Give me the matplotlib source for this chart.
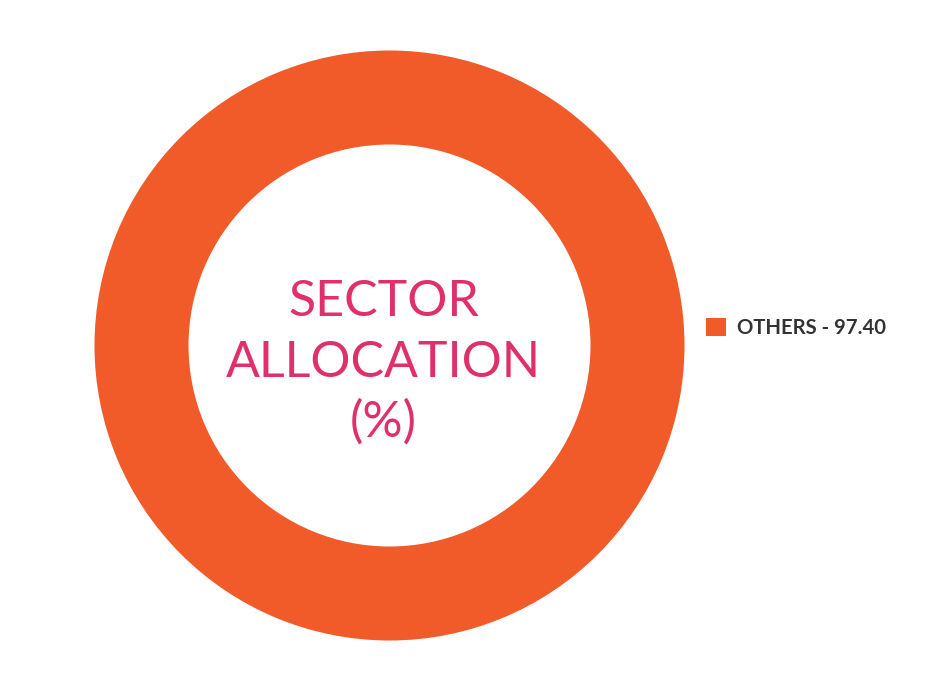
import matplotlib
matplotlib.use("Agg")
import matplotlib.pyplot as plt
from matplotlib.patches import Patch

categories = ["OTHERS"]
values = [97.40]
colors = ["#f15a29"]
center_lines = ["SECTOR", "ALLOCATION", "(%)"]

W, H = 943, 695
fig = plt.figure(figsize=(W / 100, H / 100), dpi=100)
ax = fig.add_axes([0, 0, 1, 1])

cx, cy, r_out, r_in = 389.5, 345.5, 295, 201
ax.pie(values, colors=colors, center=(cx, cy), radius=r_out, startangle=90,
       counterclock=False, wedgeprops=dict(width=r_out - r_in, edgecolor="none"))
ax.set_xlim(0, W)
ax.set_ylim(H, 0)
ax.set_aspect("equal")
ax.axis("off")

baselines = [316, 377, 437]
for line, yb in zip(center_lines, baselines):
    ax.text(383.5, yb, line, ha="center", va="baseline", fontsize=36.1,
            family="Lato", color="#e0306a")

handles = [Patch(facecolor=c, edgecolor="none") for c in colors]
labels = [f"{c} - {v:.2f}" for c, v in zip(categories, values)]
leg = ax.legend(handles, labels, loc="center left",
                bbox_to_anchor=(705.5 / W, 1 - 328 / H), bbox_transform=fig.transFigure,
                frameon=False, handlelength=1.0, handleheight=1.0,
                handletextpad=0.55, borderaxespad=0, borderpad=0,
                prop=dict(family="Lato", weight="bold", size=14.6))
for t in leg.get_texts():
    t.set_color("#333333")

fig.savefig("out.png", dpi=100, facecolor="white")
